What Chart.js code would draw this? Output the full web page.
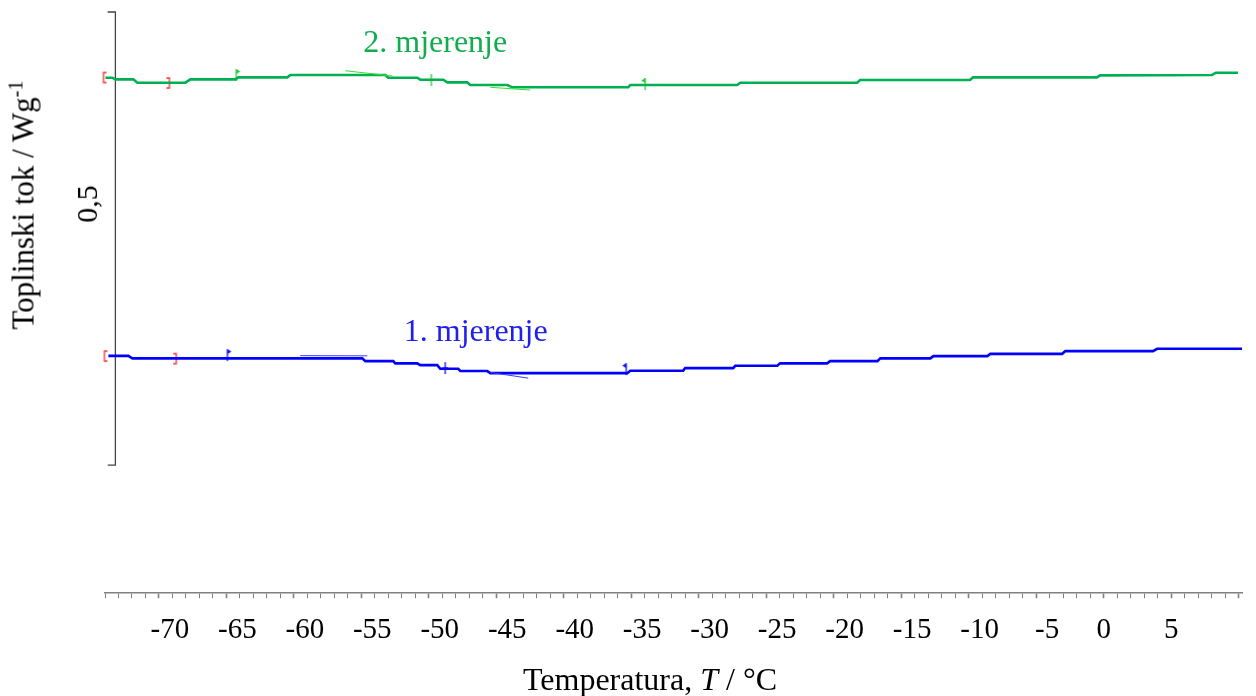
<!DOCTYPE html>
<html>
<head>
<meta charset="utf-8">
<script src="https://cdn.jsdelivr.net/npm/chart.js@4"></script>
<style>
  body { margin: 0; background: #fff; }
  #wrap { position: relative; width: 1256px; height: 696px; }
  #wrap canvas { position: absolute; left: 0; top: 0; }
  .lbl { position: absolute; font-family: "Liberation Serif", serif; font-size: 31px; line-height: 1; color: #000; white-space: nowrap; transform: translate(-50%, -50%); }
  .rot { transform: translate(-50%, -50%) rotate(-90deg); }
  .lbl sup { font-size: 0.65em; vertical-align: 0.55em; line-height: 0; }
</style>
</head>
<body>
<div id="wrap">
  <canvas id="dsc" width="1256" height="696"></canvas>
  <div class="lbl rot" style="left:23px; top:205px">Toplinski tok / Wg<sup>-1</sup></div>
  <div class="lbl rot" style="left:87px; top:204px; font-size:30px">0,5</div>
  <div class="lbl" style="left:650px; top:679px; font-size:32px">Temperatura, <i>T</i> / °C</div>
</div>
<script>
// 2. mjerenje (green) - temperature in °C, heat flow in W/g (relative to scale bar)
var tempGreen = [-73.97, -73.45, -73.23, -71.90, -71.60, -68.04, -67.67, -64.34, -64.12, -60.49, -60.27, -53.23,
  -53.01, -50.86, -50.64, -48.93, -48.64, -47.16, -46.94, -44.19, -43.82, -35.23, -35.08, -27.16, -26.93, -18.27,
  -18.04, -9.90, -9.68, -0.50, -0.27, 8.03, 8.32, 9.95]
var flowGreen = [0.4275, 0.4275, 0.4257, 0.4257, 0.4220, 0.4220, 0.4257, 0.4257, 0.4279, 0.4279, 0.4305, 0.4305,
  0.4275, 0.4275, 0.4253, 0.4253, 0.4224, 0.4224, 0.4194, 0.4194, 0.4169, 0.4169, 0.4194, 0.4194, 0.4220, 0.4220,
  0.4249, 0.4249, 0.4279, 0.4279, 0.4301, 0.4305, 0.4330, 0.4330]

// 1. mjerenje (blue)
var tempBlue = [-73.75, -72.27, -71.97, -54.93, -54.71, -52.64, -52.49, -50.86, -50.64, -49.38, -49.16, -47.82,
  -47.67, -45.67, -45.45, -35.30, -35.08, -31.16, -31.01, -27.45, -27.30, -24.19, -23.97, -20.49, -20.27, -16.77,
  -16.55, -12.84, -12.62, -8.62, -8.40, -3.07, -2.84, 3.66, 3.96, 10.25]
var flowBlue = [0.1206, 0.1206, 0.1178, 0.1178, 0.1148, 0.1148, 0.1123, 0.1123, 0.1104, 0.1104, 0.1063, 0.1063,
  0.1038, 0.1038, 0.1015, 0.1015, 0.1041, 0.1043, 0.1071, 0.1071, 0.1096, 0.1096, 0.1123, 0.1123, 0.1148, 0.1148,
  0.1178, 0.1178, 0.1203, 0.1203, 0.1228, 0.1228, 0.1258, 0.1258, 0.1284, 0.1284]

// glass transition tangents (null = gap)
var tanGreenT = [-56.20, -52.70, -49.00, -45.45, -42.49]
var tanGreenW = [0.4352, 0.4294, null, 0.4169, 0.4139]
var tanBlueT = [-59.53, -54.56, -50.00, -45.45, -42.64]
var tanBlueW = [0.1208, 0.1206, null, 0.1023, 0.0960]

// evaluation marks: brackets, onset/end flags, midpoint cross
var markKinds = ['[', ']', 'flagR', '+', 'flagL']
var markGreenT = [-74.04, -69.30, -64.27, -49.82, -33.97]
var markGreenW = [0.4277, 0.4216, 0.4305, 0.4249, 0.4205]
var markBlueT = [-73.97, -68.79, -64.93, -48.79, -35.38]
var markBlueW = [0.1203, 0.1175, 0.1214, 0.1071, 0.1060]

// 0,5 W/g scale bar
var barT = [-73.80, -73.23, -73.23, -73.80]
var barW = [0.5, 0.5, 0, 0]

// series labels (baseline anchor)
var seriesNames = ['2. mjerenje', '1. mjerenje']
var labelT = [-49.53, -46.53]
var labelW = [0.4558, 0.1369]
var labelColors = ['#10ad4c', '#2020ee']

var labelledTicks = [-70, -65, -60, -55, -50, -45, -40, -35, -30, -25, -20, -15, -10, -5, 0, 5]

function zip(xs, ys) {
  return xs.map((v, i) => ({x: v, y: ys[i]}))
}

function glyph(kind, color) {
  var c = document.createElement('canvas')
  c.width = 12
  c.height = 16
  var g = c.getContext('2d')
  g.strokeStyle = color
  g.fillStyle = color
  g.lineWidth = 1.3
  g.beginPath()
  if (kind === '[') {
    g.moveTo(8, 3); g.lineTo(5, 3); g.lineTo(5, 13); g.lineTo(8, 13)
  } else if (kind === ']') {
    g.moveTo(4, 3); g.lineTo(7, 3); g.lineTo(7, 13); g.lineTo(4, 13)
  } else if (kind === '+') {
    g.moveTo(6, 2); g.lineTo(6, 14); g.moveTo(3, 8); g.lineTo(9, 8)
  } else {
    g.moveTo(6, 2); g.lineTo(6, 14)
  }
  g.stroke()
  if (kind === 'flagR' || kind === 'flagL') {
    var tip = kind === 'flagR' ? 10 : 2
    g.beginPath(); g.moveTo(6, 2); g.lineTo(tip, 4.5); g.lineTo(6, 7); g.closePath(); g.fill()
  }
  return c
}

function markStyles(color) {
  return markKinds.map((k) => glyph(k, (k === '[' || k === ']') ? '#ff2a2a' : color))
}

var greenGlyphs = markStyles('#22cc33')
var blueGlyphs = markStyles('#1010ff')

//Series labels plugin
const seriesLabels = {
  id: 'seriesLabels',
  afterDatasetsDraw(chart) {
    const ctx = chart.ctx
    const x = chart.scales.x
    const y = chart.scales.y
    ctx.save()
    ctx.font = '32px "Liberation Serif"'
    ctx.textAlign = 'center'
    ctx.textBaseline = 'alphabetic'
    seriesNames.forEach((name, i) => {
      ctx.fillStyle = labelColors[i]
      ctx.fillText(name, x.getPixelForValue(labelT[i]), y.getPixelForValue(labelW[i]))
    })
    ctx.restore()
  }
}

new Chart(document.getElementById('dsc'), {
  type: 'line',
  data: {
    datasets: [
      {
        data: zip(tanGreenT, tanGreenW),
        borderColor: '#33e033',
        borderWidth: 1,
        pointRadius: 0,
        spanGaps: false,
      },
      {
        data: zip(tanBlueT, tanBlueW),
        borderColor: '#3a3aff',
        borderWidth: 1,
        pointRadius: 0,
        spanGaps: false,
      },
      {
        data: zip(tempGreen, flowGreen),
        borderColor: '#00b050',
        borderWidth: 2.6,
        pointRadius: 0,
      },
      {
        data: zip(tempBlue, flowBlue),
        borderColor: '#0000ff',
        borderWidth: 2.6,
        pointRadius: 0,
      },
      {
        data: zip(barT, barW),
        borderColor: '#444444',
        borderWidth: 1.3,
        pointRadius: 0,
        clip: false,
      },
      {
        data: zip(markGreenT, markGreenW),
        showLine: false,
        pointRadius: 5,
        pointStyle: (c) => greenGlyphs[c.dataIndex],
        clip: false,
      },
      {
        data: zip(markBlueT, markBlueW),
        showLine: false,
        pointRadius: 5,
        pointStyle: (c) => blueGlyphs[c.dataIndex],
        clip: false,
      },
    ],
  },
  options: {
    responsive: false,
    animation: false,
    devicePixelRatio: 1,
    layout: {
      padding: {left: 105, right: 14, top: 12, bottom: 33}
    },
    plugins: {
      legend: {display: false},
      tooltip: {enabled: false},
    },
    scales: {
      x: {
        type: 'linear',
        min: -74,
        max: 10.25,
        border: {display: true, color: '#808080', width: 1.5},
        grid: {
          drawOnChartArea: false,
          drawTicks: true,
          tickLength: 5,
          tickColor: '#808080',
          tickWidth: (c) => (c.tick && c.tick.value % 5 === 0) ? 1.6 : 1,
        },
        ticks: {
          stepSize: 1,
          autoSkip: false,
          includeBounds: false,
          maxRotation: 0,
          padding: 15,
          color: '#000',
          font: {family: '"Liberation Serif"', size: 29},
          callback: (v) => labelledTicks.includes(v) ? (v < 0 ? '   ' + v : String(v)) : '',
        },
      },
      y: {
        type: 'linear',
        display: false,
        min: -0.1413,
        max: 0.5,
      },
    },
  },
  plugins: [seriesLabels],
})
</script>
</body>
</html>
